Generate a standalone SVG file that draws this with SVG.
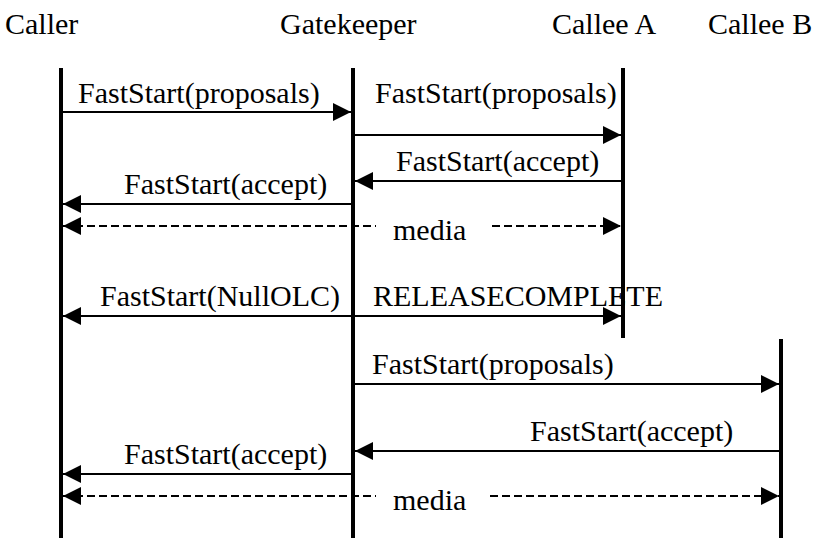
<svg xmlns="http://www.w3.org/2000/svg" width="815" height="538" viewBox="0 0 815 538">
<defs>
<marker id="ah" markerUnits="userSpaceOnUse" markerWidth="18" markerHeight="18" refX="18" refY="9" orient="auto-start-reverse" viewBox="0 0 18 18">
<path d="M0,0 L18,9 L0,18 z" fill="#000"/>
</marker>
<style>
text{font-family:"Liberation Serif","Times New Roman",serif;font-size:30px;fill:#000}
.life{stroke:#000;stroke-width:4;fill:none}
.msg{stroke:#000;stroke-width:2;fill:none}
.dash{stroke-dasharray:8 4}
</style>
</defs>
<rect width="815" height="538" fill="#fff"/>
<g id="caller">
<text x="5" y="34">Caller</text>
<line class="life" x1="61" y1="68" x2="61" y2="538"/>
</g>
<g id="gatekeeper">
<text x="280" y="34">Gatekeeper</text>
<line class="life" x1="353" y1="68" x2="353" y2="538"/>
</g>
<g id="calleeA">
<text x="552" y="34">Callee A</text>
<line class="life" x1="623" y1="68" x2="623" y2="338"/>
</g>
<g id="calleeB">
<text x="708" y="34">Callee B</text>
<line class="life" x1="781" y1="339" x2="781" y2="538"/>
</g>
<g id="connectors">
<line class="msg" x1="61" y1="112" x2="351" y2="112" marker-end="url(#ah)"/>
<text x="78" y="103">FastStart(proposals)</text>
<line class="msg" x1="353" y1="135" x2="621" y2="135" marker-end="url(#ah)"/>
<text x="375" y="103">FastStart(proposals)</text>
<line class="msg" x1="623" y1="181" x2="355" y2="181" marker-end="url(#ah)"/>
<text x="396" y="171">FastStart(accept)</text>
<line class="msg" x1="353" y1="204" x2="63" y2="204" marker-end="url(#ah)"/>
<text x="124" y="194">FastStart(accept)</text>
<line class="msg dash" x1="63" y1="226" x2="376" y2="226" marker-start="url(#ah)"/>
<line class="msg dash" x1="492" y1="226" x2="621" y2="226" marker-end="url(#ah)"/>
<text x="393" y="240">media</text>
<line class="msg" x1="63" y1="316" x2="621" y2="316" marker-start="url(#ah)" marker-end="url(#ah)"/>
<text x="100" y="306">FastStart(NullOLC)</text>
<text x="373" y="306">RELEASECOMPLETE</text>
<line class="msg" x1="353" y1="384" x2="779" y2="384" marker-end="url(#ah)"/>
<text x="372" y="374">FastStart(proposals)</text>
<line class="msg" x1="781" y1="451" x2="355" y2="451" marker-end="url(#ah)"/>
<text x="530" y="441">FastStart(accept)</text>
<line class="msg" x1="353" y1="474" x2="63" y2="474" marker-end="url(#ah)"/>
<text x="124" y="464">FastStart(accept)</text>
<line class="msg dash" x1="63" y1="496" x2="376" y2="496" marker-start="url(#ah)"/>
<line class="msg dash" x1="490" y1="496" x2="779" y2="496" marker-end="url(#ah)"/>
<text x="393" y="510">media</text>
</g>
</svg>
